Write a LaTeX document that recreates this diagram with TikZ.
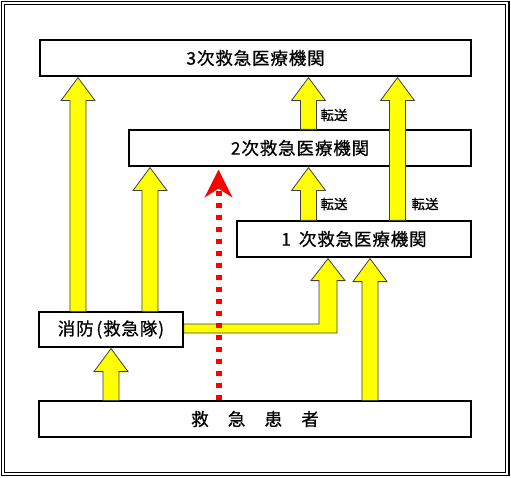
\documentclass[tikz,border=0pt]{standalone}
\usepackage{fontspec}
\setmainfont{Noto Sans CJK JP}[FakeBold=0.7]
\usetikzlibrary{calc}
\definecolor{ayel}{RGB}{255,255,0}
\definecolor{ared}{RGB}{255,0,0}
\newcommand\blockup[3]{%
  \coordinate (bx) at (#1,0);
  \path (bx |- #2) coordinate (bb) (bx |- #3) coordinate (tt);
  \draw[blk] ($(bb)+(-8,0)$) -- ($(tt)+(-8,24)$) -- ($(tt)+(-17,24)$) -- ($(tt)+(0,1)$)
    -- ($(tt)+(17,24)$) -- ($(tt)+(8,24)$) -- ($(bb)+(8,0)$) -- cycle;
}
\begin{document}
\begin{tikzpicture}[x=1pt,y=-1pt,
  box/.style={draw=black,line width=1.2pt,fill=white,inner sep=0pt,
    font=\fontsize{17.5}{20}\selectfont\addfontfeature{LetterSpace=5}},
  blk/.style={draw=black!75,line width=0.8pt,fill=ayel,line join=miter},
  lab/.style={font=\fontsize{13.5}{15}\selectfont,inner sep=0pt},
  reddash/.style={draw=ared,line width=6pt,dash pattern=on 5pt off 7pt}]
\useasboundingbox (0,0) rectangle (511,478);
\fill[white] (0,0) rectangle (511,478);
\draw[line width=1.2pt] (1.5,1.5) rectangle (509,475.5);
\draw[line width=1.2pt] (4.8,4.8) rectangle (505.8,472.2);

\node[box,minimum width=431pt,minimum height=36pt] (t3) at (255.5,58) {3次救急医療機関};
\node[box,minimum width=342pt,minimum height=36pt] (t2) at (300,148) {2次救急医療機関};
\node[box,minimum width=234pt,minimum height=36pt] (t1) at (354,239) {1\hspace{0.45em}次救急医療機関};
\node[box,minimum width=144pt,minimum height=35pt] (fire) at (111,329.5) {消防\hspace{0.15em}(救急隊)};
\node[box,minimum width=432pt,minimum height=36pt] (pat) at (255,419) {救　急　患　者};

\blockup{78}{fire.north}{t3.south}
\blockup{150}{fire.north}{t2.south}
\blockup{308.5}{t2.north}{t3.south}
\blockup{397.5}{t1.north}{t3.south}
\blockup{308.5}{t1.north}{t2.south}
\blockup{370}{pat.north}{t1.south}
\blockup{111}{pat.north}{fire.south}

% bent arrow from fire brigade to primary
\coordinate (fe) at (fire.east);
\coordinate (bx6) at (328,0);
\path (bx6 |- t1.south) coordinate (tt6);
\draw[blk] (fe |- 0,324) -- (319,324) -- ($(tt6)+(-9,23)$) -- ($(tt6)+(-17,23)$) -- ($(tt6)+(0,1)$)
  -- ($(tt6)+(17,23)$) -- ($(tt6)+(9,23)$) -- (337,333) -- (fe |- 0,333) -- cycle;
\draw[line width=1.2pt] (fire.north east) -- (fire.south east);

\node[lab] (l1) at (334,115) {転送};
\node[lab] (l2) at (334,204) {転送};
\node[lab] (l3) at (425,204) {転送};

% red dotted arrow
\coordinate (rx) at (219,0);
\path (rx |- pat.north) coordinate (rb) (rx |- t2.south) coordinate (rt);
\draw[reddash] (rb) -- ($(rt)+(0,24)$);
\fill[ared] ($(rt)+(-0.5,3)$) -- ($(rt)+(13.5,31)$) -- ($(rt)+(-0.5,22)$) -- ($(rt)+(-14.5,31)$) -- cycle;
\end{tikzpicture}
\end{document}
